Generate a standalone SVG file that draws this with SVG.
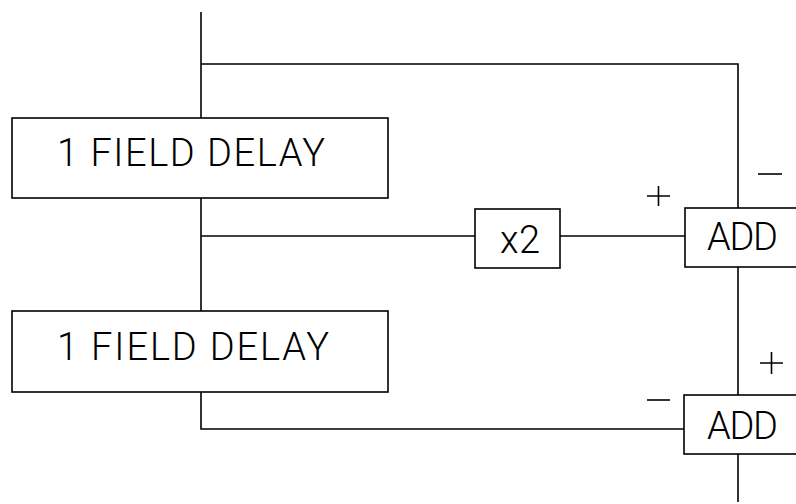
<svg xmlns="http://www.w3.org/2000/svg" width="796" height="504" viewBox="0 0 796 504">
<style>
.box{fill:none;stroke:#000;stroke-width:1.6}
.wire{fill:none;stroke:#000;stroke-width:1.6}
.lbl{font-family:Roboto,Inter,"Liberation Sans",Arial,sans-serif;font-weight:300;fill:#000}
.big{font-size:38px}
</style>
<rect width="796" height="504" fill="#fff"/>
<g id="connectors">
<path class="wire" d="M201,12 V118"/>
<path class="wire" d="M201,64 H738 V208"/>
<path class="wire" d="M201,198 V311"/>
<path class="wire" d="M201,236 H475"/>
<path class="wire" d="M560,236 H685"/>
<path class="wire" d="M738,267 V395"/>
<path class="wire" d="M201,392 V429 H684"/>
<path class="wire" d="M738,454 V502"/>
</g>
<g id="delay1">
<rect class="box" x="12" y="118" width="376" height="80"/>
<text class="lbl big" x="57" y="166" textLength="268" lengthAdjust="spacing">1 FIELD DELAY</text>
</g>
<g id="delay2">
<rect class="box" x="12" y="311" width="376" height="81"/>
<text class="lbl big" x="57" y="360" textLength="272" lengthAdjust="spacing">1 FIELD DELAY</text>
</g>
<g id="times2">
<rect class="box" x="475" y="209" width="85" height="59"/>
<text class="lbl big" x="500" y="253" textLength="40" lengthAdjust="spacing">x2</text>
</g>
<g id="add1">
<rect class="box" x="685" y="208" width="120" height="59"/>
<text class="lbl big" x="707" y="250" textLength="71" lengthAdjust="spacing">ADD</text>
<path class="wire" d="M647,196 H670 M658.5,186 V206"/>
<path class="wire" d="M758,174 H782"/>
</g>
<g id="add2">
<rect class="box" x="684" y="395" width="120" height="59"/>
<text class="lbl big" x="707" y="439" textLength="71" lengthAdjust="spacing">ADD</text>
<path class="wire" d="M760,363 H783 M771.5,352 V374"/>
<path class="wire" d="M647,400 H670"/>
</g>
</svg>
